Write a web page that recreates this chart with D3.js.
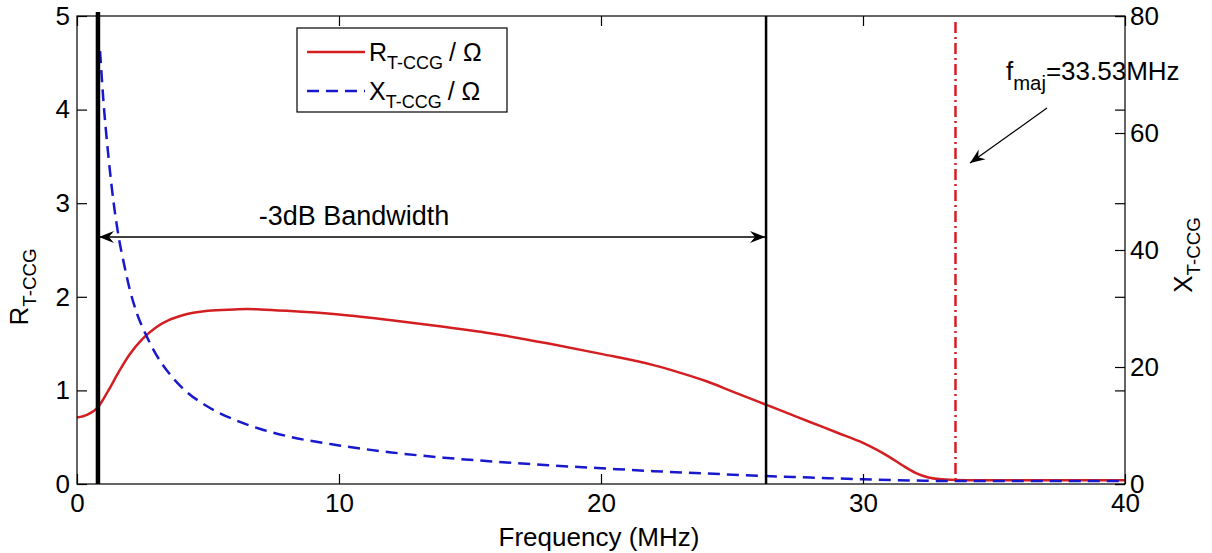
<!DOCTYPE html>
<html>
<head>
<meta charset="utf-8">
<script src="https://cdn.jsdelivr.net/npm/d3@7"></script>
<style>
  html, body { margin: 0; padding: 0; background: #fff; }
  svg { display: block; font-family: "Liberation Sans", Arial, Helvetica, sans-serif; }
</style>
</head>
<body>
<svg id="chart" width="1212" height="553"></svg>
<script>
// Frequency sweep (MHz) and measured resistance R_T-CCG (Ω, left axis)
const freqR = [0, 0.4, 0.8, 1.2, 1.6, 2.0, 2.5, 3.0, 3.5, 4, 5, 6, 6.5, 7, 8, 10, 12, 14, 16, 18, 20,
               22, 23, 24, 25, 26, 27, 28, 29, 30, 30.5, 31, 31.5, 32, 32.5, 33, 34, 36, 38, 40];
const rValues = [0.71, 0.74, 0.82, 1.0, 1.2, 1.38, 1.55, 1.67, 1.75, 1.8, 1.85, 1.865, 1.87, 1.865, 1.85,
                 1.81, 1.75, 1.68, 1.6, 1.5, 1.39, 1.27, 1.19, 1.1, 0.99, 0.88, 0.77, 0.66, 0.55, 0.44,
                 0.37, 0.29, 0.2, 0.12, 0.07, 0.05, 0.04, 0.04, 0.04, 0.04];

// Reactance X_T-CCG (Ω, right axis)
const freqX = [0.88, 1.0, 1.2, 1.4, 1.6, 1.8, 2.0, 2.3, 2.6, 3.0, 3.5, 4, 5, 6, 7, 8, 10, 12, 14, 16,
               18, 20, 22, 24, 26, 28, 30, 32, 33.5, 36, 40];
const xValues = [74, 66, 56, 48, 42, 37.5, 33.5, 29, 25.8, 22.3, 19, 16.5, 13.2, 11, 9.4, 8.2, 6.6, 5.4,
                 4.5, 3.8, 3.2, 2.7, 2.2, 1.8, 1.4, 1.1, 0.8, 0.6, 0.5, 0.5, 0.5];

// Axis ticks
const xTicks = [0, 10, 20, 30, 40];
const yLeftTicks = [0, 1, 2, 3, 4, 5];
const yRightTicks = [0, 20, 40, 60, 80];

// Marker frequencies (MHz)
const bandLow = 0.8;
const bandHigh = 26.3;
const fMaj = 33.53;

const svg = d3.select("#chart");
const L = 77, R = 1125, T = 16, B = 484;

const x = d3.scaleLinear().domain([0, 40]).range([L, R]);
const yL = d3.scaleLinear().domain([0, 5]).range([B, T]);
const yR = d3.scaleLinear().domain([0, 80]).range([B, T]);

const FONT = 26;
const RED = "#d41f22", BLUE = "#1818cc";

// arrowhead marker
const defs = svg.append("defs");
defs.append("marker")
  .attr("id", "head").attr("viewBox", "-16 -7 17 14")
  .attr("refX", 0).attr("refY", 0)
  .attr("markerWidth", 17).attr("markerHeight", 14)
  .attr("markerUnits", "userSpaceOnUse")
  .attr("orient", "auto-start-reverse")
  .append("path").attr("d", "M0,0 L-15,-6 L-10,0 L-15,6 Z").attr("fill", "#000");

// curves
const lineR = d3.line().x((d, i) => x(freqR[i])).y(d => yL(d)).curve(d3.curveMonotoneX);
const lineX = d3.line().x((d, i) => x(freqX[i])).y(d => yR(d)).curve(d3.curveMonotoneX);

svg.append("path").attr("d", lineR(rValues))
  .attr("fill", "none").attr("stroke", RED).attr("stroke-width", 2.5);
svg.append("path").attr("d", lineX(xValues))
  .attr("fill", "none").attr("stroke", BLUE).attr("stroke-width", 2.5)
  .attr("stroke-dasharray", "12,7");

// box
svg.append("rect").attr("x", L).attr("y", T).attr("width", R - L).attr("height", B - T)
  .attr("fill", "none").attr("stroke", "#000").attr("stroke-width", 1.2);

function styleAxis(g, showText) {
  g.select(".domain").remove();
  g.selectAll(".tick line").attr("stroke", "#000").attr("stroke-width", 1.2);
  g.selectAll(".tick text").attr("font-size", FONT).attr("fill", "#000")
    .attr("font-family", "Liberation Sans, Arial, sans-serif");
  if (!showText) g.selectAll(".tick text").remove();
}

svg.append("g").attr("transform", `translate(0,${B})`)
  .call(d3.axisBottom(x).tickValues(xTicks).tickSizeInner(-10).tickSizeOuter(0).tickPadding(10).tickFormat(d3.format("d")))
  .call(g => styleAxis(g, true));
svg.append("g").attr("transform", `translate(0,${T})`)
  .call(d3.axisTop(x).tickValues(xTicks).tickSizeInner(-10).tickSizeOuter(0))
  .call(g => styleAxis(g, false));
svg.append("g").attr("transform", `translate(${L},0)`)
  .call(d3.axisLeft(yL).tickValues(yLeftTicks).tickSizeInner(-10).tickSizeOuter(0).tickPadding(7).tickFormat(d3.format("d")))
  .call(g => styleAxis(g, true));
svg.append("g").attr("transform", `translate(${R},0)`)
  .call(d3.axisRight(yL).tickValues(yLeftTicks).tickSizeInner(-10).tickSizeOuter(0))
  .call(g => styleAxis(g, false));
svg.append("g").attr("transform", `translate(${R},0)`)
  .call(d3.axisRight(yR).tickValues(yRightTicks).tickSizeInner(-10).tickSizeOuter(0).tickPadding(5).tickFormat(d3.format("d")))
  .call(g => styleAxis(g, true));

// axis labels
svg.append("text").attr("x", (L + R) / 2 - 2).attr("y", 546).attr("text-anchor", "middle")
  .attr("font-size", FONT).text("Frequency (MHz)");

function subLabel(sel, main, sub, rest, size) {
  sel.append("tspan").text(main);
  sel.append("tspan").attr("font-size", size * 0.72).attr("dy", 8).text(sub);
  if (rest) sel.append("tspan").attr("dy", -8).attr("dx", 6).text(rest);
}

svg.append("text").attr("font-size", FONT).attr("text-anchor", "middle")
  .attr("transform", `translate(28,287) rotate(-90)`)
  .call(s => subLabel(s, "R", "T-CCG", null, FONT));
svg.append("text").attr("font-size", FONT).attr("text-anchor", "middle")
  .attr("transform", `translate(1192,255) rotate(-90)`)
  .call(s => subLabel(s, "X", "T-CCG", null, FONT));

// bandwidth markers
svg.append("line").attr("x1", x(bandLow)).attr("x2", x(bandLow)).attr("y1", 12).attr("y2", B)
  .attr("stroke", "#000").attr("stroke-width", 4.5);
svg.append("line").attr("x1", x(bandHigh)).attr("x2", x(bandHigh)).attr("y1", T).attr("y2", B)
  .attr("stroke", "#000").attr("stroke-width", 2.5);
svg.append("line").attr("x1", x(fMaj)).attr("x2", x(fMaj)).attr("y1", 22).attr("y2", B)
  .attr("stroke", RED).attr("stroke-width", 2.5).attr("stroke-dasharray", "11,4,2,4");

// -3dB bandwidth double arrow
svg.append("line").attr("x1", x(bandLow) + 1).attr("x2", x(bandHigh) - 1).attr("y1", 237).attr("y2", 237)
  .attr("stroke", "#000").attr("stroke-width", 1.5)
  .attr("marker-start", "url(#head)").attr("marker-end", "url(#head)");
svg.append("text").attr("x", 354).attr("y", 225).attr("text-anchor", "middle")
  .attr("font-size", 27).text("-3dB Bandwidth");

// f_maj annotation
const fLab = svg.append("text").attr("x", 1006).attr("y", 80).attr("font-size", FONT);
fLab.append("tspan").text("f");
fLab.append("tspan").attr("font-size", FONT * 0.78).attr("dy", 10).text("maj");
fLab.append("tspan").attr("dy", -10).text("=33.53MHz");
svg.append("line").attr("x1", 1047).attr("y1", 108).attr("x2", 970).attr("y2", 163)
  .attr("stroke", "#000").attr("stroke-width", 1.2).attr("marker-end", "url(#head)");

// legend
const LFONT = 25;
const lg = svg.append("g");
lg.append("rect").attr("x", 297).attr("y", 28).attr("width", 210).attr("height", 84)
  .attr("fill", "#fff").attr("stroke", "#000").attr("stroke-width", 1.2);
const entries = [
  { color: RED, dash: null, main: "R", y: 52 },
  { color: BLUE, dash: "12,7", main: "X", y: 91 }
];
entries.forEach(e => {
  lg.append("line").attr("x1", 307).attr("x2", 365).attr("y1", e.y).attr("y2", e.y)
    .attr("stroke", e.color).attr("stroke-width", 2.5).attr("stroke-dasharray", e.dash);
  const t = lg.append("text").attr("x", 369).attr("y", e.y + 9).attr("font-size", LFONT);
  subLabel(t, e.main, "T-CCG", "/ Ω", LFONT);
});
</script>
</body>
</html>
